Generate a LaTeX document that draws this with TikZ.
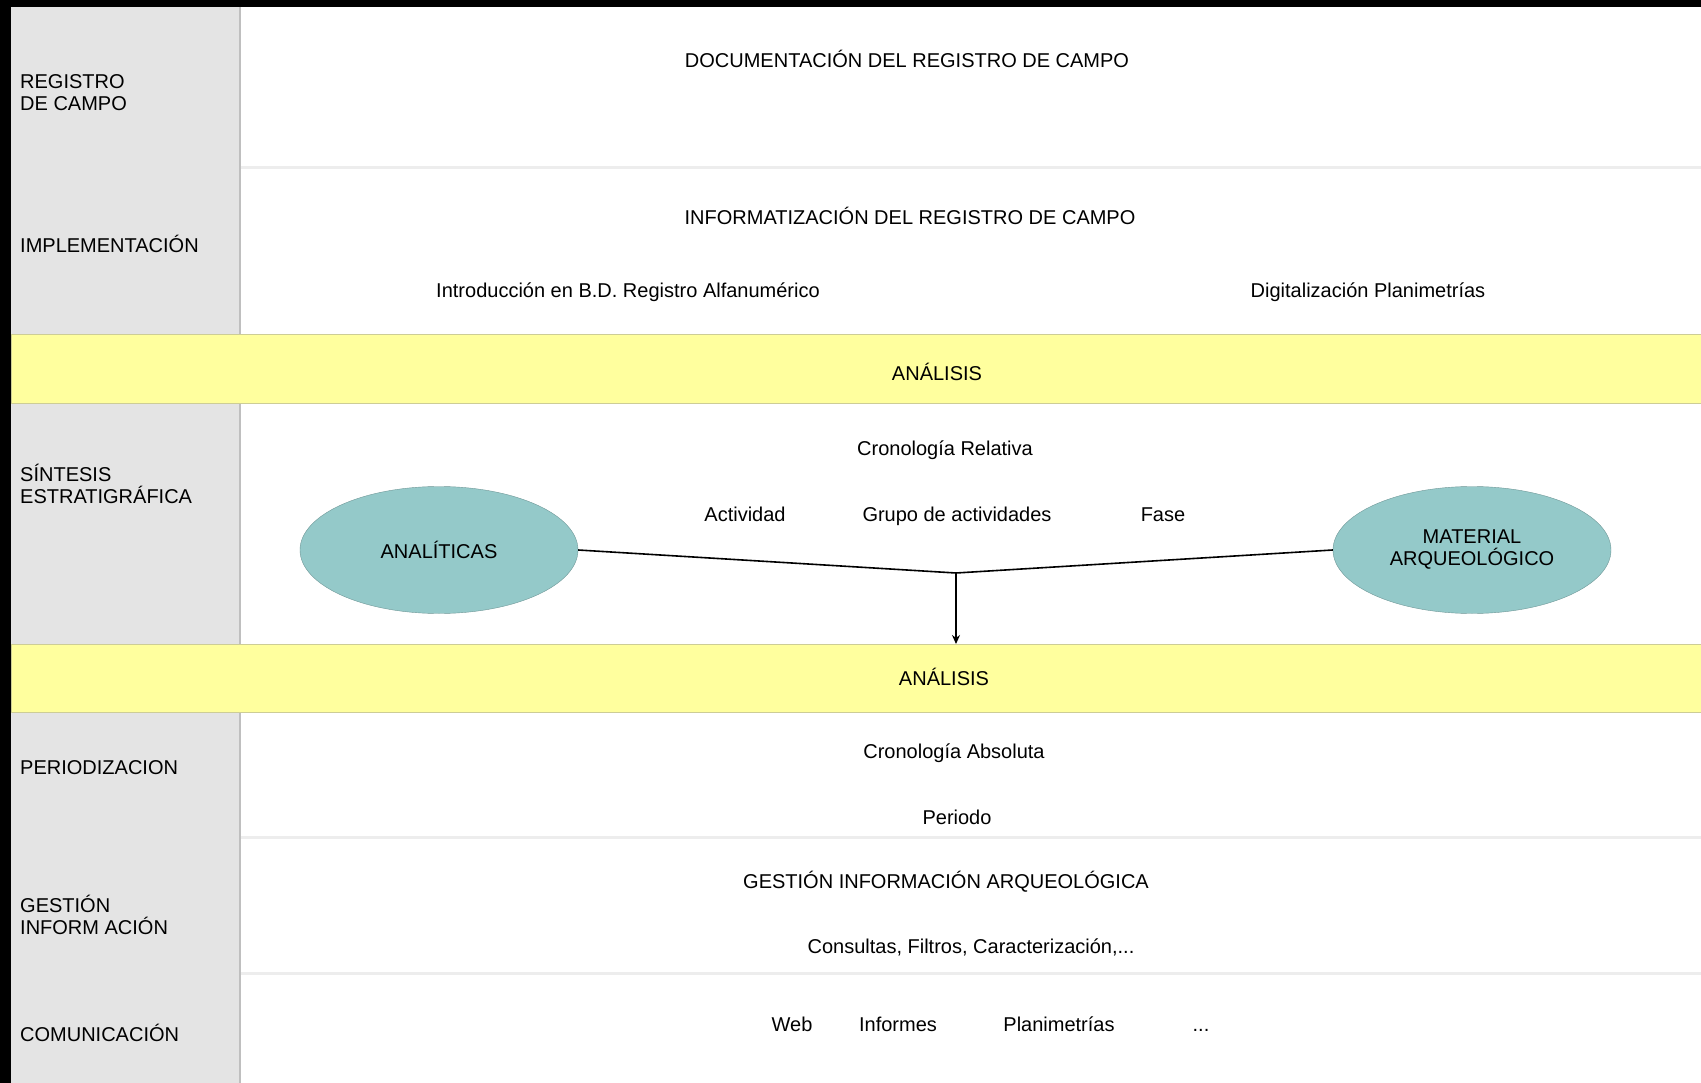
\documentclass[tikz,border=0pt]{standalone}
\usepackage{fontspec}
\setmainfont{Liberation Sans}
\usetikzlibrary{shapes.geometric,arrows.meta}

\definecolor{sidegray}{RGB}{228,228,228}
\definecolor{bandyellow}{RGB}{255,255,158}
\definecolor{bandedge}{RGB}{205,205,150}
\definecolor{ovalteal}{RGB}{148,201,201}

\tikzstyle{rowlabel} = [anchor=west,align=left,inner sep=0pt,font=\fontsize{20}{22}\selectfont]
\tikzstyle{item} = [inner sep=0pt,text height=14.4pt,text depth=0pt,font=\fontsize{20}{22}\selectfont]
\tikzstyle{band} = [rectangle,fill=bandyellow,draw=bandedge,line width=1pt,anchor=north west,minimum width=1690pt,minimum height=68pt,outer sep=0pt]
\tikzstyle{oval} = [ellipse,draw=ovalteal!75!black,fill=ovalteal,minimum width=278pt,minimum height=127pt,align=center,inner sep=0pt,font=\fontsize{20}{22}\selectfont]
\tikzstyle{rowline} = [draw=black!7,line width=3pt]
\tikzstyle{edge} = [draw,line width=1.6pt]
\tikzstyle{arrowdecorate} = [-{Stealth[length=9pt,width=8pt]},line width=1.6pt]

\begin{document}
\begin{tikzpicture}[x=1pt,y=-1pt]
      \useasboundingbox (0,0) rectangle (1701,1083);
      % frame and left column
      \fill[black] (0,0) rectangle (1701,7);
      \fill[black] (0,0) rectangle (11,1083);
      \fill[sidegray] (11,7) rectangle (240,1083);
      \draw[black!25,line width=1.5pt] (240,7) -- (240,1083);
      \foreach \y in {168,837,973}
        \draw[rowline] (241,\y) -- (1701,\y);
      % bands
      \node[band] (banda1) at (11,335) {};
      \node[band] (banda2) at (11,644) {};

      % row labels
      \foreach \nodename/\y/\text in {
        registro/93/{REGISTRO\\DE CAMPO},
        implementacion/244/IMPLEMENTACIÓN,
        sintesis/484/{SÍNTESIS\\ESTRATIGRÁFICA},
        periodizacion/768/PERIODIZACION,
        gestion/915/{GESTIÓN\\INFORM ACIÓN},
        comunicacion/1033/COMUNICACIÓN}
      {
        \node[rowlabel] (\nodename) at (20,\y) {\text};
      };

      % texts
      \foreach \nodename/\x/\y/\text in {
        documentacion/907/60/DOCUMENTACIÓN DEL REGISTRO DE CAMPO,
        informatizacion/910/217/INFORMATIZACIÓN DEL REGISTRO DE CAMPO,
        introduccion/628/290/Introducción en B.D. Registro Alfanumérico,
        digitalizacion/1368/290/Digitalización Planimetrías,
        analisisA/937/373/ANÁLISIS,
        relativa/945/448/Cronología Relativa,
        actividad/745/514/Actividad,
        grupo/957/514/Grupo de actividades,
        fase/1163/514/Fase,
        analisisB/944/678/ANÁLISIS,
        absoluta/954/751/Cronología Absoluta,
        periodo/957/817/Periodo,
        gestioninfo/946/881/GESTIÓN INFORMACIÓN ARQUEOLÓGICA,
        web/792/1024/Web,
        informes/898/1024/Informes,
        planimetrias/1059/1024/Planimetrías}
      {
        \node[item] (\nodename) at (\x,\y) {\text};
      };
      \node[item] (consultas) at (971,946) {Consultas, Filtros, Caracterización,...};
      \node[item] (etc) at (1201,1024) {...};

      % ovals and connectors
      \node[oval] (analiticas) at (439,550) {ANALÍTICAS};
      \node[oval] (material) at (1472,550) {MATERIAL\\ARQUEOLÓGICO};
      \coordinate (union) at (956,573);
      \path[edge] (analiticas.east) -- (union) -- (material.west);
      \draw[arrowdecorate] (union) -- (union |- banda2.north);
    \end{tikzpicture}
\end{document}
